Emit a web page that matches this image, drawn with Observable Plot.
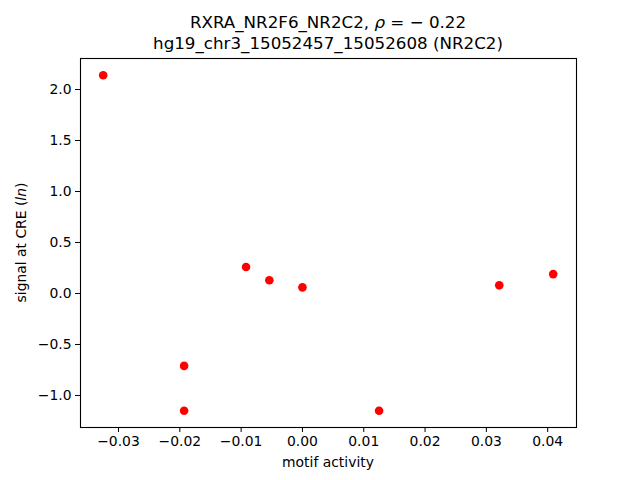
<!DOCTYPE html>
<html>
<head>
<meta charset="utf-8">
<script src="https://cdn.jsdelivr.net/npm/d3@7"></script>
<script src="https://cdn.jsdelivr.net/npm/@observablehq/plot@0.6"></script>
<style>
body { margin: 0; background: #fff; }
#chart svg { font-family: "DejaVu Sans", sans-serif; }
</style>
</head>
<body>
<div id="chart"></div>
<script>
const motifActivity = [-0.0325, -0.0193, -0.0193, -0.0092, -0.0054, 0.0000, 0.0125, 0.0321, 0.0409];
const signal = [2.14, -0.71, -1.15, 0.26, 0.13, 0.06, -1.15, 0.08, 0.19];
const xTicks = [-0.03, -0.02, -0.01, 0.00, 0.01, 0.02, 0.03, 0.04];
const yTicks = [-1.0, -0.5, 0.0, 0.5, 1.0, 1.5, 2.0];
const titleLine2 = "hg19_chr3_15052457_15052608 (NR2C2)";

const data = motifActivity.map((x, i) => ({x, y: signal[i]}));
const minus = s => s.replace("-", "\u2212");

const W = 640, H = 480, mL = 80, mR = 64, mT = 58, mB = 53;

const plot = Plot.plot({
  width: W, height: H,
  marginLeft: mL, marginRight: mR, marginTop: mT, marginBottom: mB,
  style: {fontFamily: "DejaVu Sans, sans-serif", fontSize: "13.9px", background: "#fff", color: "#000"},
  x: {domain: [-0.0362, 0.0447], ticks: xTicks, tickFormat: d => minus(d3.format(".2f")(d)), label: null, tickSize: 5, tickPadding: 4},
  y: {domain: [-1.314, 2.304], ticks: yTicks, tickFormat: d => minus(d3.format(".1f")(d)), label: null, tickSize: 5, tickPadding: 4},
  marks: [
    Plot.axisX({ticks: xTicks, tickFormat: d => minus(d3.format(".2f")(d)), label: null, tickSize: 5, tickPadding: 4, fontSize: 13.9}),
    Plot.axisY({ticks: yTicks, tickFormat: d => minus(d3.format(".1f")(d)), label: null, tickSize: 5, tickPadding: 4, fontSize: 13.9}),
    Plot.dot(data, {x: "x", y: "y", r: 4.3, fill: "#ff0000", stroke: "none"}),
    Plot.frame({stroke: "#000", strokeWidth: 1.1})
  ]
});

const svg = d3.select(plot);
const cx = mL + (W - mL - mR) / 2;

const t1 = svg.append("text").attr("x", cx).attr("y", 28).attr("text-anchor", "middle")
  .attr("font-size", "16.7px").attr("fill", "#000");
t1.append("tspan").text("RXRA_NR2F6_NR2C2, ");
t1.append("tspan").attr("font-style", "italic").text("\u03C1");
t1.append("tspan").text(" = \u2212 0.22");

svg.append("text").attr("x", cx).attr("y", 49).attr("text-anchor", "middle")
  .attr("font-size", "16.7px").attr("fill", "#000").text(titleLine2);

svg.append("text").attr("x", cx).attr("y", 467).attr("text-anchor", "middle")
  .attr("font-size", "13.9px").attr("fill", "#000").text("motif activity");

const yl = svg.append("text").attr("transform", `translate(26,${mT + (H - mT - mB) / 2}) rotate(-90)`)
  .attr("text-anchor", "middle").attr("font-size", "13.9px").attr("fill", "#000");
yl.append("tspan").text("signal at CRE (");
yl.append("tspan").attr("font-style", "italic").text("ln");
yl.append("tspan").text(")");

document.getElementById("chart").appendChild(plot);
</script>
</body>
</html>
